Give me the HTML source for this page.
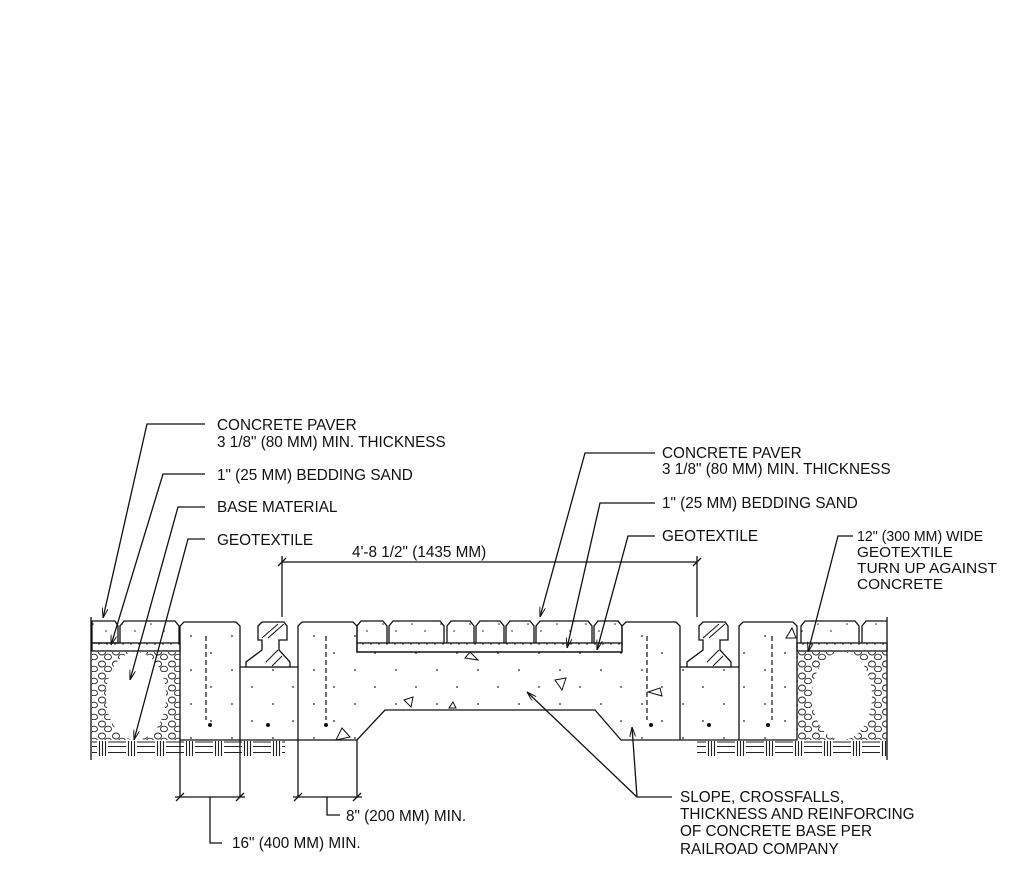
<!DOCTYPE html>
<html><head><meta charset="utf-8"><style>
html,body{margin:0;padding:0;background:#fff;}
svg{display:block}
text{font-family:"Liberation Sans",Arial,sans-serif;font-size:15.3px;fill:#111}
text.sm{font-size:15px}
</style></head><body>
<svg width="1024" height="891" viewBox="0 0 1024 891" xmlns="http://www.w3.org/2000/svg">
<defs>
<marker id="ar" markerWidth="10" markerHeight="6" refX="10" refY="3" orient="auto" markerUnits="userSpaceOnUse"><path d="M0,0 L10,3 L0,6" fill="none" stroke="#111" stroke-width="1"/></marker>
<pattern id="dots" width="41" height="34" patternUnits="userSpaceOnUse"><circle cx="6" cy="7" r="0.9" fill="#222"/><circle cx="27" cy="24" r="0.9" fill="#222"/></pattern>
<pattern id="pdots" width="29" height="22" patternUnits="userSpaceOnUse"><circle cx="6" cy="8" r="0.8" fill="#222"/><circle cx="19" cy="15" r="0.8" fill="#222"/></pattern>
<pattern id="sand" width="8" height="8" patternUnits="userSpaceOnUse"><circle cx="3" cy="4" r="0.8" fill="#222"/></pattern>
<pattern id="grav" width="14" height="12" patternUnits="userSpaceOnUse"><ellipse cx="4" cy="4" rx="3.5" ry="3" fill="none" stroke="#222" stroke-width="0.9"/><ellipse cx="10" cy="9" rx="3.5" ry="2.8" fill="none" stroke="#222" stroke-width="0.9"/></pattern>
<pattern id="hatch" width="29" height="15" patternUnits="userSpaceOnUse"><path d="M0,2.5 h10 M0,7 h10 M0,11.5 h10 M12.5,0 v15 M15.5,0 v15 M18.5,0 v15 M21,2.5 h8 M21,7 h8 M21,11.5 h8" stroke="#222" stroke-width="1.1" fill="none"/></pattern>
</defs>
<g stroke="#111" stroke-width="1.3" fill="none">
<rect x="92" y="741" width="193" height="15" fill="url(#hatch)" stroke="none"/>
<rect x="697" y="741" width="190" height="15" fill="url(#hatch)" stroke="none"/>
<line x1="91" y1="617" x2="91" y2="760"/>
<line x1="887" y1="617" x2="887" y2="760"/>
<rect x="92" y="643" width="88" height="8" fill="url(#sand)"/>
<path d="M92,621 H115 L118,626 L118,643 H92Z M120,643 V626 L124,621 H175 L179,626 V643" fill="url(#pdots)"/>
<rect x="92" y="652" width="88" height="88" fill="url(#grav)" stroke="none"/>
<ellipse cx="136" cy="696" rx="30" ry="44" fill="#fff" stroke="none"/>
<rect x="797" y="643" width="90" height="8" fill="url(#sand)"/>
<path d="M801,643 V626 L805,621 H855 L859,626 V643 M862,643 V626 L866,621 H887" fill="url(#pdots)"/>
<rect x="797" y="652" width="90" height="88" fill="url(#grav)" stroke="none"/>
<ellipse cx="842" cy="696" rx="30" ry="44" fill="#fff" stroke="none"/>
<path d="M180,740 V626 L184,622 H236 L240,626 V667 H298 V626 L302,622 H353 L357,626 V652 H622 V626 L626,622 H676 L680,626 V667 H739 V626 L743,622 H793 L797,626 V740 H621 L595,710 H385 L357,740 Z" fill="url(#dots)"/>
<line x1="240" y1="667" x2="240" y2="797"/><line x1="298" y1="667" x2="298" y2="797"/>
<line x1="180" y1="740" x2="180" y2="797"/><line x1="357" y1="740" x2="357" y2="797"/>
<line x1="680" y1="667" x2="680" y2="740"/><line x1="739" y1="667" x2="739" y2="740"/>
<rect x="357" y="643" width="265" height="9" fill="url(#sand)"/>
<path d="M357,643 V626 L361,621 H383 L387,626 V643 M389,643 V626 L393,621 H440 L444,626 V643 M447,643 V626 L451,621 H470 L474,626 V643 M476,643 V626 L480,621 H500 L504,626 V643 M506,643 V626 L510,621 H530 L534,626 V643 M536,643 V626 L540,621 H588 L592,626 V643 M594,643 V626 L598,621 H618 L622,626 V643" fill="url(#pdots)"/>
<g stroke-dasharray="5,3" stroke-width="1.2">
<line x1="206" y1="636" x2="206" y2="720"/><line x1="326" y1="636" x2="326" y2="720"/>
<line x1="647" y1="636" x2="647" y2="720"/><line x1="772" y1="636" x2="772" y2="720"/>
</g>
<g fill="#111" stroke="none"><circle cx="210" cy="725" r="2"/><circle cx="268" cy="725" r="2"/><circle cx="326" cy="725" r="2"/><circle cx="651" cy="725" r="2"/><circle cx="709" cy="725" r="2"/><circle cx="768" cy="725" r="2"/></g>
<g fill="#fff">
<path d="M258,626 L262,622 H284 L287,626 V640 H279 V650 L290,662 V667 H246 V662 L262,650 V640 H258Z"/>
<path d="M699,626 L703,622 H725 L728,626 V640 H720 V650 L731,662 V667 H687 V662 L703,650 V640 H699Z"/>
</g>
<g stroke-width="1">
<path d="M262,638 L278,624 M268,638 L284,624 M266,662 L278,650 M272,666 L282,656 M703,638 L719,624 M709,638 L725,624 M707,662 L719,650 M713,666 L723,656"/>
<path d="M336,740 L342,728 L350,737Z M404,700 L413,697 L411,707Z M555,680 L566,678 L562,690Z M648,692 L660,688 L662,696Z M786,638 L792,628 L796,638Z M449,708 L453,702 L456,708Z M465,658 L478,660 L470,652Z"/>
</g>
<line x1="282" y1="562" x2="697" y2="562"/>
<line x1="282" y1="556" x2="282" y2="617"/><line x1="697" y1="556" x2="697" y2="617"/>
<path d="M278,566 L286,558 M693,566 L701,558"/>
<line x1="175" y1="797" x2="245" y2="797"/><line x1="293" y1="797" x2="362" y2="797"/>
<path d="M176,801 L184,793 M236,801 L244,793 M294,801 L302,793 M353,801 L361,793"/>
<polyline points="210,797 210,843 222,843"/>
<polyline points="327,797 327,815 340,815"/>
<polyline points="205,424 147,424 103,618" marker-end="url(#ar)"/>
<polyline points="205,474 163,474 111,645" marker-end="url(#ar)"/>
<polyline points="205,507 178,507 130,680" marker-end="url(#ar)"/>
<polyline points="205,539 188,539 134,740" marker-end="url(#ar)"/>
<polyline points="655,453 585,453 540,617" marker-end="url(#ar)"/>
<polyline points="655,503 600,503 567,648" marker-end="url(#ar)"/>
<polyline points="655,536 628,536 597,650" marker-end="url(#ar)"/>
<polyline points="853,536 838,536 808,652" marker-end="url(#ar)"/>
<polyline points="672,797 637,797 527,692" marker-end="url(#ar)"/>
<line x1="637" y1="797" x2="632" y2="727" marker-end="url(#ar)"/>
</g>
<text x="217" y="430">CONCRETE PAVER</text>
<text x="217" y="447">3 1/8" (80 MM) MIN. THICKNESS</text>
<text x="217" y="480">1" (25 MM) BEDDING SAND</text>
<text x="217" y="512">BASE MATERIAL</text>
<text x="217" y="545">GEOTEXTILE</text>
<text x="352" y="557">4'-8 1/2" (1435 MM)</text>
<text x="662" y="458">CONCRETE PAVER</text>
<text x="662" y="474">3 1/8" (80 MM) MIN. THICKNESS</text>
<text x="662" y="508">1" (25 MM) BEDDING SAND</text>
<text x="662" y="541">GEOTEXTILE</text>
<text class="sm" x="857" y="541" textLength="126" lengthAdjust="spacingAndGlyphs">12" (300 MM) WIDE</text>
<text class="sm" x="857" y="557" textLength="96" lengthAdjust="spacingAndGlyphs">GEOTEXTILE</text>
<text class="sm" x="857" y="573" textLength="140" lengthAdjust="spacingAndGlyphs">TURN UP AGAINST</text>
<text class="sm" x="857" y="589" textLength="86" lengthAdjust="spacingAndGlyphs">CONCRETE</text>
<text x="680" y="802">SLOPE, CROSSFALLS,</text>
<text x="680" y="819">THICKNESS AND REINFORCING</text>
<text x="680" y="836">OF CONCRETE BASE PER</text>
<text x="680" y="854">RAILROAD COMPANY</text>
<text x="346" y="821">8" (200 MM) MIN.</text>
<text x="232" y="848">16" (400 MM) MIN.</text>
</svg>
</body></html>
